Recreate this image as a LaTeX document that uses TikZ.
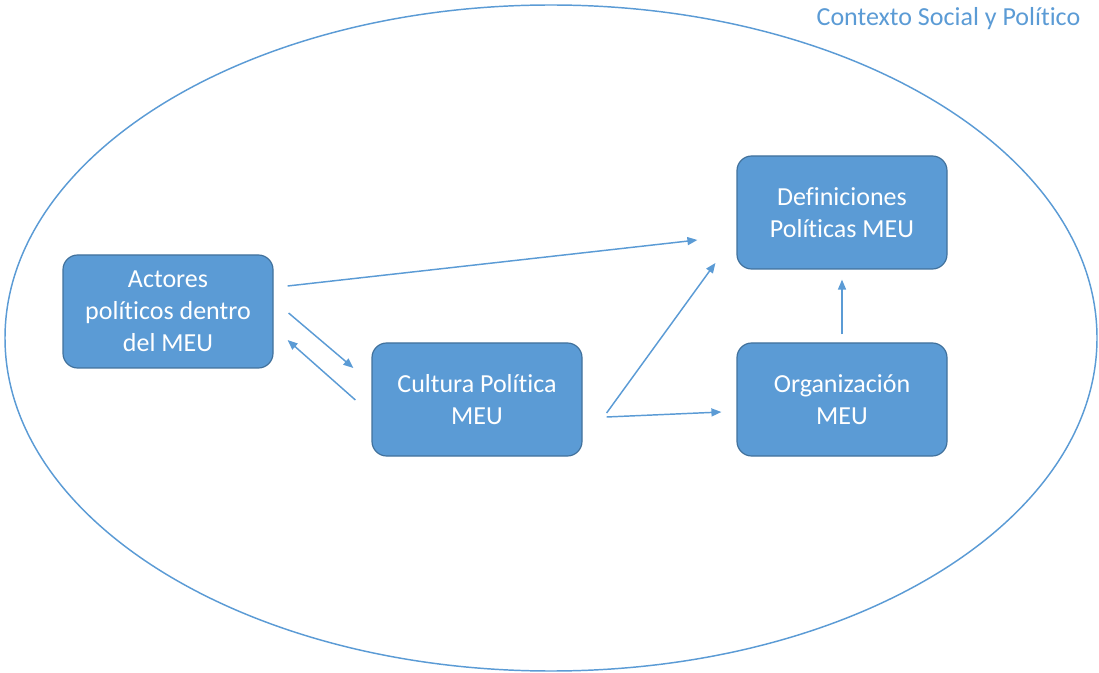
\documentclass[tikz,border=0pt]{standalone}
\usepackage{fontspec}
\setmainfont{Carlito}[Ligatures=NoCommon]
\usetikzlibrary{arrows.meta}
\definecolor{boxfill}{HTML}{5B9BD5}
\definecolor{boxline}{HTML}{41719C}
\definecolor{linec}{HTML}{5B9BD5}
\begin{document}
\begin{tikzpicture}[x=0.75pt,y=-0.75pt,
  box/.style={draw=boxline,line width=0.9pt,fill=boxfill,rounded corners=11pt,
    minimum width=157.5pt,minimum height=84.75pt,inner sep=0pt,align=center,
    text=white,font=\fontsize{19.5pt}{24pt}\selectfont},
  conn/.style={draw=linec,line width=1.1pt,-{Triangle[length=7.5pt,width=6pt]}}]
\useasboundingbox (0,0) rectangle (1099,673);
\draw[linec,line width=1.1pt] (551,338) ellipse [x radius=409.5pt,y radius=249.75pt];
\node[anchor=east,text=linec,font=\fontsize{19.5pt}{24pt}\selectfont] (title) at (1085,19) {Contexto Social y Político};
\node[box] (a) at (168,311.5) {Actores\\políticos dentro\\del MEU};
\node[box] (c) at (477,399.5) {Cultura Política\\MEU};
\node[box] (d) at (842,212.5) {Definiciones\\Políticas MEU};
\node[box] (o) at (842,399.5) {Organización\\MEU};
\draw[conn] ([shift={(14,-25.5)}]a.east) -- ([shift={(-39,27.5)}]d.west);
\draw[conn] ([shift={(15,1.5)}]a.east) -- ([shift={(-18,-31.5)}]c.west);
\draw[conn] ([shift={(-16,0.5)}]c.west) -- ([shift={(14,28.5)}]a.east);
\draw[conn] ([shift={(24,13.5)}]c.east) -- ([shift={(-21,50.5)}]d.west);
\draw[conn] ([shift={(24,17.5)}]c.east) -- ([shift={(-15,12.5)}]o.west);
\draw[conn] ([shift={(0,-8)}]o.north) -- ([shift={(0,10)}]d.south);
\end{tikzpicture}
\end{document}
